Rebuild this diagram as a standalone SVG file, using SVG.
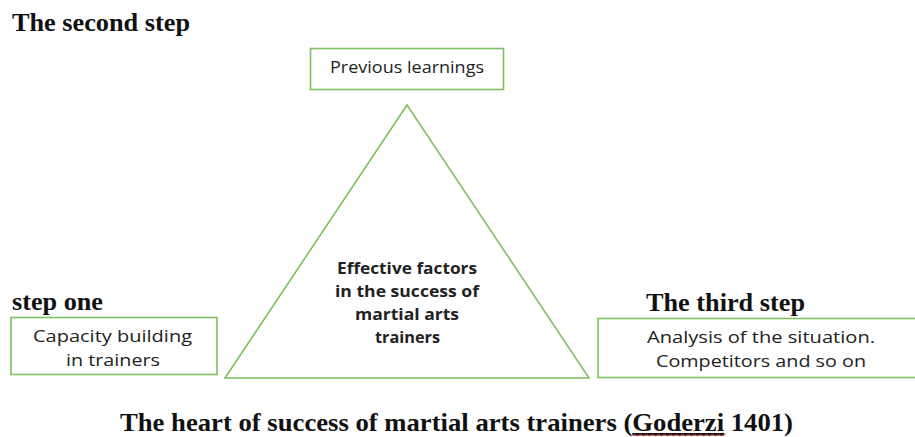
<svg xmlns="http://www.w3.org/2000/svg" width="915" height="437" viewBox="0 0 915 437">
  <style>
    .heading { font-family: "Liberation Serif", "Times New Roman", serif; font-weight: bold; font-size: 25px; fill: #111; }
    .box { fill: #fff; stroke: #7fbf5e; stroke-width: 1.6; }
    .label { font-family: "Open Sans", "Noto Sans", "Liberation Sans", sans-serif; font-size: 17px; fill: #222; }
    .core { font-family: "Open Sans", "Noto Sans", "Liberation Sans", sans-serif; font-size: 16px; font-weight: bold; fill: #222; }
  </style>
  <rect width="915" height="437" fill="#fff"/>

  <!-- step headings -->
  <text class="heading" x="12" y="31" textLength="178" lengthAdjust="spacingAndGlyphs">The second step</text>
  <text class="heading" x="12" y="310" textLength="91" lengthAdjust="spacingAndGlyphs">step one</text>
  <text class="heading" x="646" y="311" textLength="159" lengthAdjust="spacingAndGlyphs">The third step</text>

  <!-- central triangle -->
  <g id="core">
    <polygon points="407,105 225,378 589,378" fill="none" stroke="#7fbf5e" stroke-width="1.6"/>
    <text class="core" x="337" y="274" textLength="140" lengthAdjust="spacingAndGlyphs">Effective factors</text>
    <text class="core" x="335" y="297" textLength="144" lengthAdjust="spacingAndGlyphs">in the success of</text>
    <text class="core" x="355" y="320" textLength="104" lengthAdjust="spacingAndGlyphs">martial arts</text>
    <text class="core" x="375" y="343" textLength="65" lengthAdjust="spacingAndGlyphs">trainers</text>
  </g>

  <g id="previous">
    <rect class="box" x="310.5" y="48.5" width="193" height="41"/>
    <text class="label" x="330" y="73" textLength="154" lengthAdjust="spacingAndGlyphs">Previous learnings</text>
  </g>

  <g id="capacity">
    <rect class="box" x="11" y="317.5" width="206" height="57"/>
    <text class="label" x="33" y="342" textLength="159" lengthAdjust="spacingAndGlyphs">Capacity building</text>
    <text class="label" x="66" y="366" textLength="94" lengthAdjust="spacingAndGlyphs">in trainers</text>
  </g>

  <g id="analysis">
    <rect class="box" x="598" y="318.5" width="320" height="59"/>
    <text class="label" x="647" y="343" textLength="228" lengthAdjust="spacingAndGlyphs">Analysis of the situation.</text>
    <text class="label" x="656" y="367" textLength="210" lengthAdjust="spacingAndGlyphs">Competitors and so on</text>
  </g>

  <g id="connectors"></g>

  <!-- caption -->
  <text class="heading" x="120" y="431" textLength="673" lengthAdjust="spacingAndGlyphs">The heart of success of martial arts trainers (<tspan text-decoration="underline">Goderzi</tspan> 1401)</text>
  <path d="M633,435 q1.5,-2 3,0 t3,0 t3,0 t3,0 t3,0 t3,0 t3,0 t3,0 t3,0 t3,0 t3,0 t3,0 t3,0 t3,0 t3,0 t3,0 t3,0 t3,0 t3,0 t3,0 t3,0 t3,0 t3,0 t3,0 t3,0 t3,0 t3,0 t3,0 t3,0 t3,0 t3,0" fill="none" stroke="#e03030" stroke-width="0.8"/>
</svg>
